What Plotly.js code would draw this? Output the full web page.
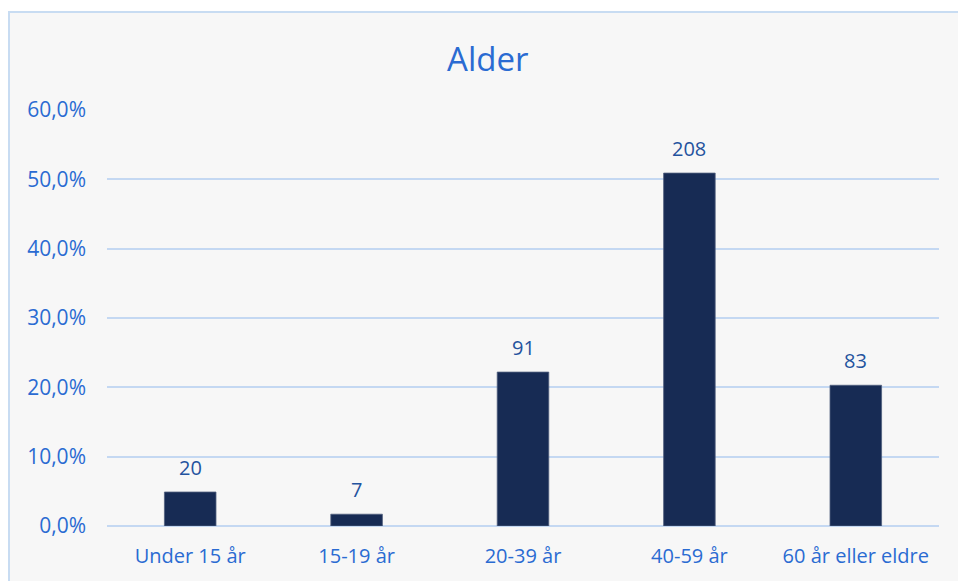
<!DOCTYPE html>
<html><head><meta charset="utf-8">
<script src="https://cdn.plot.ly/plotly-3.0.1.min.js"></script>
<style>
html,body{margin:0;padding:0;background:#ffffff;width:958px;height:581px;overflow:hidden;}
#frame{position:absolute;left:8px;top:11px;width:950px;height:570px;border-left:2px solid #c8dcf2;border-top:2px solid #c8dcf2;background:#f7f7f7;}
#chart{width:948px;height:568px;}
</style></head>
<body><div id="frame"><div id="chart"></div></div>
<script>
const categories = ["Under 15 år", "15-19 år", "20-39 år", "40-59 år", "60 år eller eldre"];
const percentValues = [4.9, 1.7, 22.2, 50.9, 20.3];
const countLabels = ["20", "7", "91", "208", "83"];
const yTickValues = [0, 10, 20, 30, 40, 50, 60];
const yTickLabels = ["0,0%", "10,0%", "20,0%", "30,0%", "40,0%", "50,0%", "60,0%"];

const trace = {
  type: "bar",
  x: categories,
  y: percentValues,
  marker: {color: "#172b54", line: {color: "#50607e", width: 0.8}},
  hoverinfo: "skip"
};

const annotations = categories.map((c, i) => ({
  x: c, y: percentValues[i], xref: "x", yref: "y",
  text: countLabels[i], showarrow: false,
  yanchor: "bottom", yshift: 9,
  font: {family: "Open Sans, sans-serif", size: 20, color: "#24539e"}
}));

const layout = {
  width: 948, height: 568,
  margin: {l: 97, r: 19, t: 97, b: 55},
  paper_bgcolor: "#f7f7f7",
  plot_bgcolor: "#f7f7f7",
  bargap: 0.69,
  showlegend: false,
  title: {text: "Alder", x: 0.504, xanchor: "center", y: 0.918, yanchor: "middle",
          font: {family: "Open Sans, sans-serif", size: 33, color: "#2a6bd2"}},
  xaxis: {
    type: "category",
    showgrid: false, showline: false, zeroline: false,
    ticks: "", ticklabelstandoff: 16,
    tickfont: {family: "Open Sans, sans-serif", size: 20, color: "#2a6bd2"}
  },
  yaxis: {
    range: [0, 60],
    tickvals: yTickValues, ticktext: yTickLabels,
    showgrid: true, gridcolor: "#c4d8f2", gridwidth: 2,
    zeroline: true, zerolinecolor: "#c4d8f2", zerolinewidth: 2,
    showline: false, ticks: "", ticklabelstandoff: 20,
    tickfont: {family: "Open Sans, sans-serif", size: 21, color: "#2a6bd2"}
  },
  annotations: annotations
};

Plotly.newPlot("chart", [trace], layout, {displayModeBar: false, staticPlot: true});
</script></body></html>
